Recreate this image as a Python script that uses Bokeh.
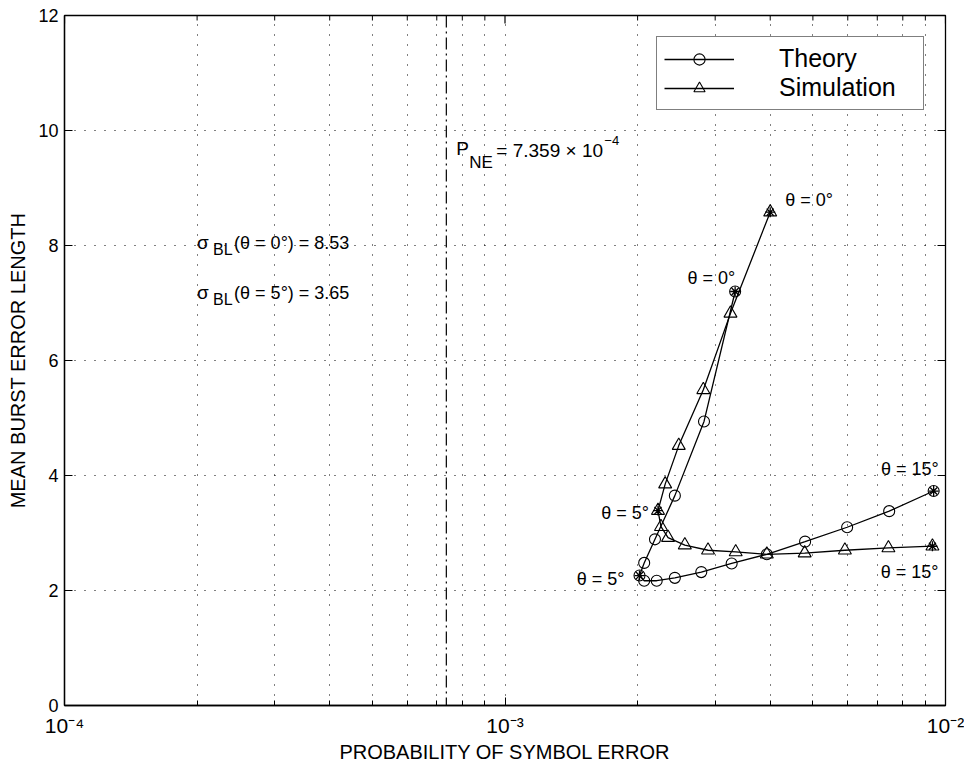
import math
from bokeh.plotting import figure
from bokeh.models import (Range1d, FixedTicker, CustomJSTickFormatter, Span, Label,
                          Legend, LegendItem)
from bokeh.embed import file_html
from bokeh.resources import INLINE

# Antenna pointing angle (degrees) along each curve
theta_deg = list(range(16))

# Theory: probability of symbol error vs. mean burst error length
theory_pe = [3.33e-3, 2.83e-3, 2.43e-3, 2.19e-3, 2.07e-3, 2.02e-3, 2.07e-3, 2.21e-3,
             2.43e-3, 2.79e-3, 3.27e-3, 3.93e-3, 4.80e-3, 5.98e-3, 7.45e-3, 9.40e-3]
theory_len = [7.20, 4.94, 3.65, 2.89, 2.48, 2.26, 2.17, 2.17,
              2.22, 2.32, 2.47, 2.63, 2.85, 3.10, 3.38, 3.73]

# Simulation results for the same angles
sim_pe = [4.00e-3, 3.25e-3, 2.82e-3, 2.48e-3, 2.31e-3, 2.225e-3, 2.26e-3, 2.345e-3,
          2.56e-3, 2.89e-3, 3.34e-3, 3.93e-3, 4.79e-3, 5.91e-3, 7.42e-3, 9.34e-3]
sim_len = [8.58, 6.82, 5.49, 4.52, 3.85, 3.39, 3.11, 2.92,
           2.79, 2.70, 2.67, 2.63, 2.65, 2.70, 2.74, 2.77]

# Angles highlighted with an asterisk and a label
marked_theta = [0, 5, 15]

# Symbol error probability without pointing error
p_ne = 7.359e-4

# Burst-length standard deviations
sigma_theta = [0, 5]
sigma_bl = [8.53, 3.65]

x_major = [1e-4, 1e-3, 1e-2]
x_minor = [m * d for d in (1e-4, 1e-3) for m in range(2, 10)]
y_ticks = [0, 2, 4, 6, 8, 10, 12]
x_lo, x_hi = 1e-4, 1e-2
y_lo, y_hi = 0, 12

FONT = "Liberation Sans"

p = figure(width=964, height=766, x_axis_type="log",
           x_range=Range1d(x_lo, x_hi), y_range=Range1d(y_lo, y_hi),
           output_backend="svg", toolbar_location=None,
           min_border_left=64, min_border_right=19,
           min_border_top=15, min_border_bottom=61)
p.background_fill_color = "white"
p.border_fill_color = "white"
p.outline_line_color = "black"
p.outline_line_width = 1.3
p.outline_line_alpha = 1.0

# Axes
xt = FixedTicker(ticks=x_major, minor_ticks=x_minor)
p.xaxis.ticker = xt
p.xgrid.ticker = xt
p.xaxis.formatter = CustomJSTickFormatter(code="""
    const e = Math.round(Math.log10(tick));
    const sup = {"-": "\u207b", "0": "\u2070", "1": "\u00b9", "2": "\u00b2", "3": "\u00b3",
                 "4": "\u2074", "5": "\u2075", "6": "\u2076", "7": "\u2077", "8": "\u2078", "9": "\u2079"};
    return "10" + String(e).split("").map(c => sup[c]).join("");
""")
yt = FixedTicker(ticks=y_ticks)
p.yaxis.ticker = yt
p.ygrid.ticker = yt

for ax in (p.xaxis[0], p.yaxis[0]):
    ax.axis_line_color = "black"
    ax.axis_line_width = 1.3
    ax.major_tick_line_color = "black"
    ax.major_tick_in = 8
    ax.major_tick_out = 0
    ax.major_label_text_font = FONT
    ax.major_label_text_color = "black"
    ax.axis_label_text_font = FONT
    ax.axis_label_text_font_size = "20px"
    ax.axis_label_text_font_style = "normal"
    ax.axis_label_text_color = "black"

p.xaxis.major_label_text_font_size = "21px"
p.yaxis.major_label_text_font_size = "18px"
p.xaxis.minor_tick_line_color = "black"
p.xaxis.minor_tick_in = 5
p.xaxis.minor_tick_out = 0
p.yaxis.minor_tick_line_color = None
p.xaxis.major_label_standoff = 8
p.yaxis.major_label_standoff = 6
p.xaxis.axis_label = "PROBABILITY OF SYMBOL ERROR"
p.yaxis.axis_label = "MEAN BURST ERROR LENGTH"
p.xaxis.axis_label_standoff = 1
p.yaxis.axis_label_standoff = 6

# Dotted grid
for g in (p.xgrid[0], p.ygrid[0]):
    g.grid_line_color = "black"
    g.grid_line_dash = "1 9"
    g.grid_line_width = 1
    g.grid_line_alpha = 1.0
p.xgrid.minor_grid_line_color = "black"
p.xgrid.minor_grid_line_dash = "1 9"
p.xgrid.minor_grid_line_width = 1

# Inward ticks along the top and right edges of the box (half of each dash is clipped)
p.scatter(x_major, [y_hi] * len(x_major), marker="dash", angle=math.pi / 2, size=16,
          line_color="black", line_width=1.2)
p.scatter(x_minor, [y_hi] * len(x_minor), marker="dash", angle=math.pi / 2, size=10,
          line_color="black", line_width=1.0)
p.scatter([x_hi] * len(y_ticks), y_ticks, marker="dash", size=16,
          line_color="black", line_width=1.2)

# P_NE reference line
p.add_layout(Span(location=p_ne, dimension="height", line_color="black",
                  line_width=1.2, line_dash="12 4 2 4"))

# Curves
th_line = p.line(theory_pe, theory_len, line_color="black", line_width=1.3)
th_pts = p.scatter(theory_pe, theory_len, marker="circle", size=11,
                   line_color="black", line_width=1.1, fill_color=None)
sim_line = p.line(sim_pe, sim_len, line_color="black", line_width=1.3)
sim_pts = p.scatter(sim_pe, sim_len, marker="triangle", size=13,
                    line_color="black", line_width=1.1, fill_color=None)

# Asterisks on the labelled angles
p.scatter([theory_pe[i] for i in marked_theta], [theory_len[i] for i in marked_theta],
          marker="asterisk", size=10, line_color="black", line_width=1.3)
p.scatter([sim_pe[i] for i in marked_theta], [sim_len[i] for i in marked_theta],
          marker="asterisk", size=10, line_color="black", line_width=1.3)


def label(text, x, y, align="left", dx=0, dy=0, size="18px", baseline="middle"):
    p.add_layout(Label(x=x, y=y, text=text, text_align=align, text_baseline=baseline,
                       x_offset=dx, y_offset=dy, text_font=FONT, text_font_size=size,
                       text_color="black"))


# Angle labels next to the marked points
th = {i: f"\u03b8 = {theta_deg[i]}\u00b0" for i in marked_theta}
label(th[0], theory_pe[0], theory_len[0], "right", 0, 14)
label(th[0], sim_pe[0], sim_len[0], "left", 15, 12)
label(th[5], sim_pe[5], sim_len[5], "right", -9, -2)
label(th[5], theory_pe[5], theory_len[5], "right", -15, -3)
label(th[15], theory_pe[15], theory_len[15], "right", 5, 22)
label(th[15], sim_pe[15], sim_len[15], "right", 6, -26)

# sigma_BL annotations
for th_val, s_val, y0 in zip(sigma_theta, sigma_bl, [8.05, 7.18]):
    label("\u03c3", 2e-4, y0, "left", 0, 0, "19px", "alphabetic")
    label("BL", 2e-4, y0, "left", 16, -7, "16px", "alphabetic")
    label(f"(\u03b8 = {th_val}\u00b0) = {s_val:.2f}", 2e-4, y0, "left", 37, 0, "18px", "alphabetic")

# P_NE annotation
mant, expo = f"{p_ne:.3e}".split("e")
y_pne = 9.65
label("P", p_ne, y_pne, "left", 10, 2, "19px", "alphabetic")
label("NE", p_ne, y_pne, "left", 23, -12, "17px", "alphabetic")
label(f"= {mant} \u00d7 10", p_ne, y_pne, "left", 50, 0, "19px", "alphabetic")
label("\u2212" + str(abs(int(expo))), p_ne, y_pne, "left", 158, 10, "13px", "alphabetic")

# Legend
legend = Legend(items=[LegendItem(label="Theory", renderers=[th_line, th_pts]),
                       LegendItem(label="Simulation", renderers=[sim_line, sim_pts])],
                location="top_right", margin=21, padding=7, spacing=0,
                glyph_width=70, glyph_height=28, label_standoff=45, label_width=137,
                label_text_font=FONT, label_text_font_size="25px",
                label_text_color="black", border_line_color="black",
                border_line_width=1.3, background_fill_color="white",
                background_fill_alpha=1.0)
p.add_layout(legend)

open("out.html", "w").write(file_html(p, INLINE))
